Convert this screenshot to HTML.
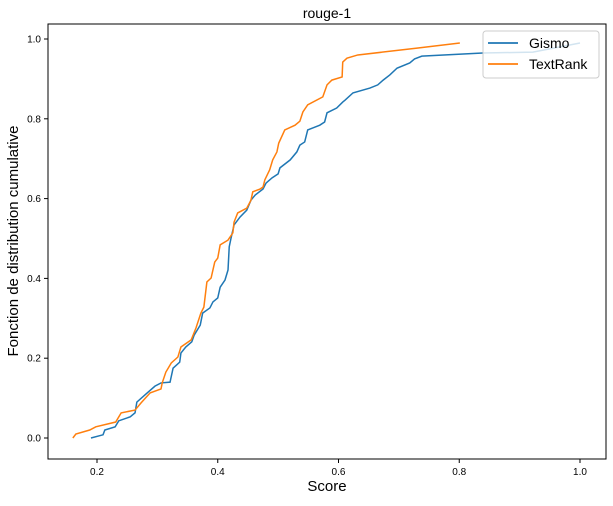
<!DOCTYPE html>
<html><head><meta charset="utf-8"><style>
body{margin:0;background:#fff;}
svg{font-family:"Liberation Sans","DejaVu Sans",sans-serif;}
</style></head><body>
<svg id="chart" width="613" height="501" viewBox="0 0 613 501" xmlns="http://www.w3.org/2000/svg">
<rect x="0" y="0" width="613" height="501" fill="#fff"/>
<text x="327" y="18" font-size="14" text-anchor="middle" fill="#000">rouge-1</text>
<g id="ticks"></g>
<g id="series"></g>
<rect x="48" y="24" width="558" height="435" fill="none" stroke="#000" stroke-width="1"/>
<text x="327" y="491" font-size="15" text-anchor="middle">Score</text>
<text transform="translate(18,241) rotate(-90)" font-size="15" text-anchor="middle">Fonction de distribution cumulative</text>
<g>
<rect x="483" y="31" width="116" height="47" rx="3" fill="#fff" fill-opacity="0.8" stroke="#ccc"/>
<line x1="488" y1="43" x2="518" y2="43" stroke="#1f77b4" stroke-width="1.7"/>
<text x="529" y="48" font-size="14">Gismo</text>
<line x1="488" y1="64" x2="518" y2="64" stroke="#ff7f0e" stroke-width="1.7"/>
<text x="529" y="69" font-size="14">TextRank</text>
</g>
</svg>
<script>
const xTicks=[0.2,0.4,0.6,0.8,1.0];
const xTickLabels=["0.2","0.4","0.6","0.8","1.0"];
const yTicks=[0,0.2,0.4,0.6,0.8,1.0];
const yTickLabels=["0.0","0.2","0.4","0.6","0.8","1.0"];
const gismoX=[0.190,0.210,0.213,0.230,0.236,0.255,0.263,0.266,0.281,0.296,0.306,0.321,0.326,0.337,0.339,0.347,0.357,0.361,0.371,0.375,0.387,0.392,0.400,0.404,0.412,0.417,0.419,0.422,0.427,0.437,0.448,0.455,0.462,0.475,0.480,0.490,0.500,0.503,0.520,0.531,0.536,0.544,0.549,0.569,0.577,0.581,0.597,0.607,0.611,0.624,0.652,0.665,0.674,0.685,0.697,0.718,0.726,0.738,0.839,0.922,1.0];
const gismoY=[0.000,0.008,0.020,0.028,0.043,0.053,0.063,0.090,0.110,0.130,0.138,0.140,0.175,0.190,0.213,0.228,0.241,0.258,0.283,0.313,0.326,0.341,0.351,0.378,0.396,0.421,0.479,0.501,0.534,0.554,0.571,0.596,0.609,0.624,0.639,0.652,0.662,0.677,0.697,0.717,0.734,0.742,0.772,0.784,0.792,0.815,0.827,0.842,0.847,0.865,0.877,0.885,0.897,0.910,0.927,0.940,0.950,0.957,0.965,0.967,0.990];
const textrankX=[0.160,0.165,0.188,0.198,0.231,0.240,0.263,0.273,0.288,0.306,0.308,0.314,0.323,0.334,0.339,0.356,0.364,0.372,0.377,0.382,0.389,0.395,0.400,0.404,0.417,0.425,0.427,0.433,0.448,0.455,0.458,0.470,0.475,0.478,0.486,0.491,0.498,0.501,0.511,0.528,0.536,0.541,0.549,0.574,0.581,0.589,0.606,0.607,0.614,0.632,0.730,0.801];
const textrankY=[0.000,0.010,0.020,0.028,0.040,0.063,0.070,0.088,0.113,0.123,0.138,0.165,0.188,0.203,0.228,0.246,0.276,0.313,0.328,0.391,0.401,0.441,0.451,0.484,0.496,0.514,0.541,0.564,0.576,0.596,0.617,0.624,0.629,0.647,0.672,0.697,0.717,0.739,0.772,0.784,0.794,0.817,0.835,0.855,0.885,0.897,0.905,0.942,0.952,0.960,0.977,0.990];
const NS="http://www.w3.org/2000/svg";
function xs(v){return 97+(v-0.2)*603.75;}
function ys(v){return 438-v*399;}
const tg=document.getElementById('ticks');
xTicks.forEach((t,i)=>{
 const l=document.createElementNS(NS,'line');
 
 
 l.setAttribute('x1',xs(t));l.setAttribute('x2',xs(t));l.setAttribute('y1',459);l.setAttribute('y2',463);l.setAttribute('stroke','#000');
 tg.appendChild(l);
 const tx=document.createElementNS(NS,'text');
 
 
 tx.setAttribute('x',xs(t));tx.setAttribute('y',475);tx.setAttribute('font-size','10');tx.setAttribute('text-anchor','middle');
 tx.textContent=xTickLabels[i];tg.appendChild(tx);
});
yTicks.forEach((t,i)=>{
 const l=document.createElementNS(NS,'line');
 
 
 l.setAttribute('x1',44);l.setAttribute('x2',48);l.setAttribute('y1',ys(t));l.setAttribute('y2',ys(t));l.setAttribute('stroke','#000');
 tg.appendChild(l);
 const tx=document.createElementNS(NS,'text');
 
 
 tx.setAttribute('x',41);tx.setAttribute('y',ys(t)+3.5);tx.setAttribute('font-size','10');tx.setAttribute('text-anchor','end');
 tx.textContent=yTickLabels[i];tg.appendChild(tx);
});
const sg=document.getElementById('series');
function line(X,Y,color,name){
 const p=document.createElementNS(NS,'polyline');
 
 
 p.setAttribute('points',X.map((x,i)=>xs(x)+','+ys(Y[i])).join(' '));
 p.setAttribute('fill','none');p.setAttribute('stroke',color);p.setAttribute('stroke-width','1.5');
 sg.appendChild(p);
}
line(gismoX,gismoY,'#1f77b4','gismo-line');
line(textrankX,textrankY,'#ff7f0e','textrank-line');
</script>
</body></html>
